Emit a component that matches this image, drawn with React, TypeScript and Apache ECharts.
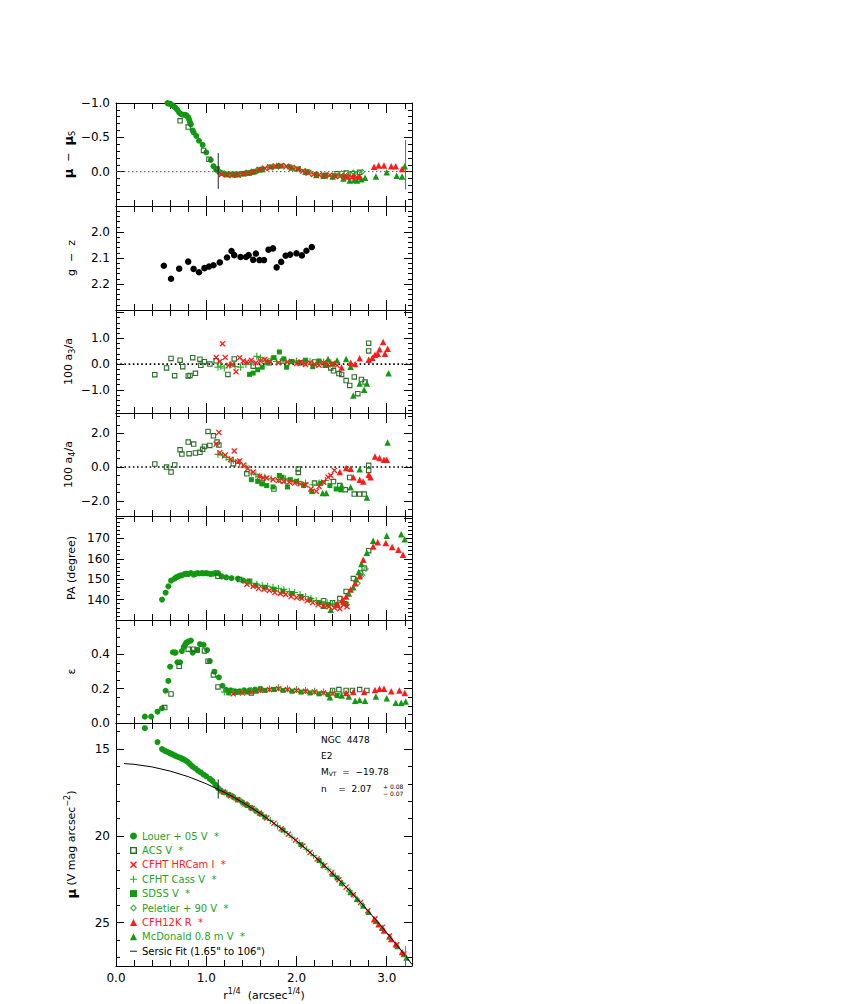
import React, { useEffect, useRef } from "react";
import * as echarts from "echarts";

// ---------- axis ranges & ticks ----------
const X_MIN = 0;
const X_MAX = 3.28;
const X_LABELS = [0, 1, 2, 3];
const X_MAJOR = [1, 2, 3];
const X_MINOR = [0.2, 0.4, 0.6, 0.8, 1.2, 1.4, 1.6, 1.8, 2.2, 2.4, 2.6, 2.8, 3.2];

const Y1_LABELS = [-1.0, -0.5, 0.0];
const Y1_MAJOR = [-0.5, 0.0];
const Y1_MINOR = [-0.9, -0.8, -0.7, -0.6, -0.4, -0.3, -0.2, -0.1, 0.1, 0.2, 0.3, 0.4];
const Y2_LABELS = [2.0, 2.1, 2.2];
const Y2_MAJOR = [2.0, 2.1, 2.2];
const Y2_MINOR = [1.92, 1.94, 1.96, 1.98, 2.02, 2.04, 2.06, 2.08, 2.12, 2.14, 2.16, 2.18, 2.22, 2.24, 2.26, 2.28];
const Y3_LABELS = [-1.0, 0.0, 1.0];
const Y3_MAJOR = [-1, 0, 1, 2];
const Y3_MINOR = [-1.8, -1.6, -1.4, -1.2, -0.8, -0.6, -0.4, -0.2, 0.2, 0.4, 0.6, 0.8, 1.2, 1.4, 1.6, 1.8];
const Y4_LABELS = [-2.0, 0.0, 2.0];
const Y4_MAJOR = [-2, 0, 2];
const Y4_MINOR = [-2.5, -1.5, -1.0, -0.5, 0.5, 1.0, 1.5, 2.5, 3.0];
const Y5_LABELS = [140, 150, 160, 170];
const Y5_MAJOR = [140, 150, 160, 170, 180];
const Y5_MINOR = [132, 134, 136, 138, 142, 144, 146, 148, 152, 154, 156, 158, 162, 164, 166, 168, 172, 174, 176, 178];
const Y6_LABELS = [0.0, 0.2, 0.4];
const Y6_MAJOR = [0.2, 0.4];
const Y6_MINOR = [0.05, 0.1, 0.15, 0.25, 0.3, 0.35, 0.45, 0.5, 0.55];
const Y7_LABELS = [15, 20, 25];
const Y7_MAJOR = [15, 20, 25];
const Y7_MINOR = [14, 16, 17, 18, 19, 21, 22, 23, 24, 26, 27];

// ---------- dataset names ----------
const N_LOUER = "Louer + 05 V  *";
const N_ACS = "ACS V  *";
const N_HRCAM = "CFHT HRCam I  *";
const N_CASS = "CFHT Cass V  *";
const N_SDSS = "SDSS V  *";
const N_PEL = "Peletier + 90 V  *";
const N_CFH12K = "CFH12K R  *";
const N_MCD = "McDonald 0.8 m V  *";
const N_SERSIC = 'Sersic Fit (1.65" to 106")';

// ---------- panel 1: mu - mu_S ----------
const LOUER_RES = [[0.57,-1.00],[0.58,-0.99],[0.60,-0.99],[0.62,-0.97],[0.64,-0.95],[0.66,-0.93],[0.68,-0.90],[0.70,-0.86],[0.72,-0.84],[0.74,-0.83],[0.76,-0.83],[0.78,-0.82],[0.80,-0.79],[0.81,-0.76],[0.82,-0.72],[0.83,-0.69],[0.85,-0.60],[0.86,-0.57],[0.89,-0.52],[0.92,-0.45],[0.96,-0.39],[1.00,-0.28],[1.05,-0.17],[1.08,-0.08],[1.11,-0.03],[1.14,0.00],[1.17,0.02],[1.20,0.03],[1.23,0.04],[1.26,0.04],[1.29,0.04],[1.32,0.04],[1.35,0.04],[1.38,0.03],[1.41,0.03],[1.44,0.02],[1.47,0.02],[1.50,0.01],[1.53,0.00],[1.56,-0.01],[1.60,-0.03]];
const ACS_RES = [[0.71,-0.74],[0.80,-0.65],[0.97,-0.31],[1.03,-0.18],[1.12,-0.04],[2.45,0.03],[2.55,0.02],[2.62,0.03],[2.70,0.01]];
const CASS_RES = [[1.15,0.01],[1.20,0.03],[1.26,0.05],[1.32,0.04],[1.38,0.04],[1.44,0.02],[1.50,0.01],[1.56,-0.02],[1.62,-0.04],[1.68,-0.06],[1.74,-0.07],[1.80,-0.08],[1.86,-0.08],[1.92,-0.06],[1.98,-0.05],[2.04,-0.03],[2.10,0.00],[2.16,0.02],[2.22,0.04],[2.28,0.05],[2.34,0.06],[2.40,0.07],[2.46,0.06],[2.52,0.08],[2.58,0.07]];
const HRCAM_RES = [[1.17,0.04],[1.23,0.05],[1.29,0.05],[1.35,0.05],[1.41,0.03],[1.47,0.02],[1.53,0.00],[1.59,-0.03],[1.65,-0.05],[1.71,-0.06],[1.77,-0.08],[1.83,-0.09],[1.89,-0.08],[1.95,-0.06],[2.01,-0.04],[2.07,-0.01],[2.13,0.02],[2.19,0.04],[2.25,0.05],[2.31,0.06],[2.37,0.05],[2.43,0.07],[2.49,0.06],[2.55,0.07],[2.61,0.09],[2.67,0.08]];
const SDSS_RES = [[1.22,0.04],[1.32,0.05],[1.42,0.03],[1.52,0.01],[1.62,-0.03],[1.72,-0.07],[1.82,-0.08],[1.92,-0.07],[2.02,-0.04],[2.12,0.00],[2.22,0.04],[2.32,0.05],[2.42,0.06],[2.52,0.07]];
const MCD_RES = [[1.62,-0.04],[1.78,-0.09],[1.95,-0.06],[2.10,0.00],[2.22,0.05],[2.30,0.06],[2.40,0.07],[2.52,0.10],[2.59,0.13],[2.64,0.12],[2.67,0.13],[2.72,0.11],[2.76,0.09],[2.88,0.07],[3.00,0.01],[3.11,0.06],[3.17,0.07],[3.20,-0.08]];
const CFH12K_RES = [[2.56,0.07],[2.63,0.06],[2.70,0.07],[2.86,-0.07],[2.91,-0.09],[2.97,-0.09],[3.05,-0.08],[3.10,-0.08],[3.17,-0.04]];
const PEL_RES = [[2.50,0.02],[2.58,0.03],[2.63,0.01],[2.68,0.02],[2.73,0.00]];

// ---------- panel 2: g - z ----------
const GZ = [[0.53,2.130],[0.61,2.180],[0.70,2.141],[0.80,2.114],[0.86,2.142],[0.92,2.155],[0.98,2.139],[1.03,2.133],[1.08,2.128],[1.15,2.117],[1.23,2.098],[1.28,2.073],[1.31,2.089],[1.38,2.096],[1.44,2.096],[1.47,2.089],[1.52,2.107],[1.55,2.083],[1.59,2.108],[1.64,2.108],[1.69,2.068],[1.74,2.063],[1.78,2.136],[1.83,2.115],[1.88,2.091],[1.93,2.087],[2.00,2.082],[2.06,2.090],[2.11,2.072],[2.17,2.058]];

// ---------- panel 3: 100 a3/a ----------
const ACS_A3 = [[0.43,-0.41],[0.56,-0.15],[0.61,0.22],[0.65,-0.45],[0.71,0.15],[0.74,-0.10],[0.80,-0.46],[0.82,-0.44],[0.85,0.25],[0.88,-0.36],[0.93,0.19],[0.94,-0.05],[0.98,0.09],[1.04,0.00],[1.11,0.13],[1.24,-0.40],[1.31,0.20],[1.52,-0.08],[1.70,0.05],[1.85,0.12],[2.05,0.05],[2.20,0.08],[2.32,-0.05],[2.38,-0.15],[2.41,-0.26],[2.47,-0.37],[2.50,-0.40],[2.55,-0.64],[2.59,-0.83],[2.64,-0.50],[2.68,-1.15],[2.72,-0.60],[2.76,-0.70],[2.80,0.81],[2.80,0.51]];
const HRCAM_A3 = [[1.11,0.26],[1.15,0.10],[1.18,0.79],[1.21,0.26],[1.25,-0.05],[1.29,0.00],[1.33,-0.30],[1.37,0.25],[1.41,0.12],[1.45,0.08],[1.50,0.15],[1.55,0.05],[1.60,0.12],[1.65,0.18],[1.70,0.10],[1.80,0.05],[1.90,0.08],[2.00,0.02],[2.05,0.08],[2.10,-0.02],[2.15,0.05],[2.20,0.00],[2.25,-0.05],[2.30,0.05],[2.35,-0.03],[2.40,0.02],[2.45,-0.05]];
const CASS_A3 = [[1.13,-0.12],[1.16,-0.08],[1.20,-0.15],[1.26,-0.05],[1.32,-0.10],[1.38,-0.12],[1.44,-0.02],[1.50,0.05],[1.56,0.30],[1.60,0.25],[1.65,0.15],[1.72,0.20],[1.78,0.10],[1.85,0.18],[1.92,0.08],[2.00,0.12],[2.08,0.05],[2.15,0.10],[2.22,0.00],[2.30,0.08],[2.38,0.05]];
const SDSS_A3 = [[1.48,-0.40],[1.52,-0.35],[1.57,-0.22],[1.62,-0.12],[1.68,0.05],[1.75,0.25],[1.81,0.47],[1.86,0.20],[1.89,-0.12],[1.95,0.10],[2.02,0.05],[2.10,0.15],[2.18,-0.10],[2.25,0.12],[2.32,-0.05],[2.40,0.00]];
const MCD_A3 = [[2.35,0.20],[2.45,0.15],[2.55,0.20],[2.60,-0.10],[2.63,-1.22],[2.70,-0.75],[2.75,-1.00],[2.78,-0.75],[3.02,-0.36]];
const CFH12K_A3 = [[2.50,-0.13],[2.60,0.05],[2.65,0.00],[2.70,0.23],[2.80,0.17],[2.84,0.25],[2.87,0.36],[2.90,0.40],[2.92,0.58],[2.96,0.86],[2.98,0.40],[3.01,0.60]];

// ---------- panel 4: 100 a4/a ----------
const ACS_A4 = [[0.43,0.18],[0.56,0.00],[0.61,-0.30],[0.65,0.12],[0.71,1.02],[0.73,0.77],[0.80,1.48],[0.81,0.79],[0.86,1.36],[0.88,0.83],[0.93,0.87],[0.96,1.05],[0.98,1.22],[1.02,2.11],[1.04,1.28],[1.08,1.85],[1.12,1.48],[1.14,1.30],[1.30,0.20],[1.45,-0.40],[1.62,-0.95],[1.75,-1.30],[1.85,-0.80],[2.02,-0.12],[2.02,-0.32],[2.20,-0.95],[2.41,-0.86],[2.48,-1.10],[2.54,-1.34],[2.59,-0.62],[2.64,-1.60],[2.70,-1.60],[2.75,-1.60],[2.80,0.10],[2.80,-0.20]];
const HRCAM_A4 = [[1.11,1.36],[1.14,2.05],[1.15,0.85],[1.21,0.71],[1.27,0.45],[1.31,0.95],[1.35,0.30],[1.37,0.36],[1.41,0.10],[1.46,-0.10],[1.52,-0.30],[1.59,-0.55],[1.63,-0.65],[1.67,-0.65],[1.74,-0.75],[1.80,-0.80],[1.86,-0.85],[1.92,-0.90],[1.98,-0.95],[2.04,-1.00],[2.10,-1.05],[2.16,-1.30],[2.22,-1.44],[2.25,-1.15],[2.30,-0.90],[2.35,-0.60],[2.38,-0.50],[2.42,-0.20]];
const CASS_A4 = [[1.13,0.75],[1.18,0.70],[1.22,0.57],[1.26,0.45],[1.30,0.40],[1.37,0.22],[1.44,0.06],[1.50,-0.35],[1.55,-0.45],[1.59,-0.55],[1.65,-0.60],[1.72,-0.70],[1.80,-0.75],[1.88,-0.70],[1.95,-0.80],[2.02,-0.85],[2.10,-0.95],[2.18,-1.05],[2.25,-0.95],[2.32,-0.80]];
const SDSS_A4 = [[1.50,-0.75],[1.57,-0.85],[1.62,-1.00],[1.67,-1.10],[1.74,-1.18],[1.81,-0.50],[1.84,-0.60],[1.90,-1.18],[1.93,-0.75],[2.00,-0.85],[2.08,-1.10],[2.17,-1.46],[2.27,-0.97],[2.37,-1.10],[2.44,-1.30],[2.49,-1.35]];
const MCD_A4 = [[2.29,-1.54],[2.33,-1.54],[2.50,-1.10],[2.60,-1.20],[2.70,-0.13],[2.78,-1.80],[3.01,1.46]];
const CFH12K_A4 = [[2.48,-0.30],[2.55,-0.05],[2.60,-0.10],[2.63,-0.60],[2.70,-0.75],[2.74,-0.85],[2.80,-0.45],[2.82,-0.60],[2.87,0.63],[2.92,0.53],[2.97,0.43],[3.00,0.43]];

// ---------- panel 5: PA ----------
const LOUER_PA = [[0.51,140.0],[0.55,143.4],[0.58,146.5],[0.61,149.3],[0.65,150.3],[0.67,151.0],[0.69,151.4],[0.71,151.8],[0.73,151.9],[0.76,152.5],[0.78,152.7],[0.80,152.5],[0.83,153.0],[0.86,152.2],[0.88,152.6],[0.90,153.0],[0.92,152.8],[0.95,153.0],[0.97,152.9],[1.00,153.0],[1.02,152.8],[1.05,152.5],[1.08,152.7],[1.10,153.0],[1.13,153.0],[1.17,151.4],[1.22,150.9],[1.28,150.5],[1.35,150.3],[1.41,149.3],[1.47,148.8]];
const ACS_PA = [[1.13,151.4],[1.37,149.8],[1.48,149.0],[2.30,139.5],[2.40,138.5],[2.48,140.5],[2.55,144.0],[2.63,150.3],[2.71,153.0],[2.75,155.5],[2.80,164.0]];
const HRCAM_PA = [[1.45,147.5],[1.52,146.5],[1.58,145.5],[1.64,145.0],[1.70,144.5],[1.76,143.5],[1.82,143.0],[1.88,142.5],[1.94,141.5],[2.00,141.0],[2.06,140.5],[2.12,139.5],[2.18,138.5],[2.24,137.5],[2.30,137.0],[2.36,136.5],[2.42,136.0],[2.48,135.5],[2.52,137.5],[2.56,136.5]];
const CASS_PA = [[1.45,148.5],[1.50,148.0],[1.56,147.5],[1.62,147.0],[1.68,146.5],[1.74,146.0],[1.80,145.5],[1.86,145.0],[1.92,144.0],[1.98,143.5],[2.04,142.5],[2.10,141.5],[2.16,140.5],[2.22,139.5],[2.28,139.0],[2.34,138.5],[2.40,138.0],[2.46,138.5],[2.52,139.0]];
const SDSS_PA = [[1.55,147.0],[1.65,146.0],[1.75,145.0],[1.85,144.0],[1.95,143.0],[2.05,141.5],[2.15,140.0],[2.25,138.5],[2.35,137.5],[2.45,137.0],[2.55,138.0]];
const MCD_PA = [[2.30,137.0],[2.38,135.0],[2.45,137.5],[2.52,139.0],[2.58,143.0],[2.63,146.0],[2.66,150.0],[2.69,153.5],[2.72,157.5],[2.78,163.0],[2.85,168.9],[3.00,171.3],[3.16,172.0],[3.20,169.6]];
const CFH12K_PA = [[2.45,138.0],[2.51,140.0],[2.55,141.5],[2.60,145.0],[2.65,148.0],[2.70,151.5],[2.74,159.6],[2.85,166.1],[2.90,168.1],[2.99,167.8],[3.06,165.8],[3.13,164.5],[3.18,162.0]];
const PEL_PA = [[2.68,148.0],[2.73,152.0],[2.77,155.0]];

// ---------- panel 6: ellipticity ----------
const LOUER_EPS = [[0.32,0.037],[0.39,0.037],[0.46,0.066],[0.51,0.086],[0.55,0.188],[0.58,0.245],[0.60,0.328],[0.63,0.412],[0.65,0.41],[0.66,0.41],[0.68,0.354],[0.71,0.354],[0.73,0.419],[0.75,0.444],[0.77,0.46],[0.78,0.468],[0.80,0.474],[0.83,0.48],[0.85,0.41],[0.90,0.425],[0.93,0.46],[0.97,0.455],[1.01,0.425],[1.04,0.361],[1.09,0.299],[1.14,0.266],[1.18,0.217],[1.22,0.193],[1.27,0.19],[1.32,0.185],[1.37,0.185],[1.42,0.19],[1.48,0.19],[1.54,0.195],[1.60,0.20]];
const ACS_EPS = [[0.54,0.09],[0.61,0.169],[0.70,0.33],[0.80,0.43],[0.86,0.43],[0.90,0.425],[0.98,0.42],[1.02,0.36],[1.08,0.28],[1.13,0.21],[1.33,0.18],[1.50,0.175],[2.40,0.19],[2.47,0.195],[2.55,0.19],[2.62,0.19],[2.70,0.195],[2.78,0.19]];
const HRCAM_EPS = [[1.30,0.17],[1.40,0.175],[1.50,0.18],[1.60,0.19],[1.70,0.195],[1.80,0.20],[1.90,0.195],[2.00,0.19],[2.10,0.185],[2.20,0.18],[2.30,0.175],[2.40,0.17]];
const CASS_EPS = [[1.20,0.18],[1.30,0.185],[1.40,0.185],[1.50,0.19],[1.60,0.195],[1.70,0.20],[1.80,0.205],[1.90,0.20],[2.00,0.195],[2.10,0.19],[2.20,0.185],[2.30,0.18],[2.40,0.18],[2.50,0.175]];
const SDSS_EPS = [[1.25,0.175],[1.35,0.18],[1.45,0.18],[1.55,0.185],[1.65,0.19],[1.75,0.195],[1.85,0.19],[1.95,0.185],[2.05,0.18],[2.15,0.175],[2.25,0.17],[2.35,0.165],[2.45,0.16]];
const MCD_EPS = [[2.37,0.15],[2.50,0.16],[2.58,0.155],[2.65,0.13],[2.70,0.134],[2.76,0.13],[2.88,0.155],[3.00,0.144],[3.10,0.118],[3.16,0.118],[3.21,0.125]];
const CFH12K_EPS = [[2.55,0.175],[2.63,0.18],[2.75,0.18],[2.87,0.192],[2.92,0.20],[2.97,0.20],[3.05,0.185],[3.14,0.19],[3.20,0.175]];

// ---------- panel 7: surface brightness ----------
const LOUER_MU = [[0.32,13.8],[0.46,14.6],[0.51,15.0],[0.53,15.07],[0.55,15.12],[0.57,15.17],[0.59,15.22],[0.61,15.27],[0.63,15.32],[0.65,15.37],[0.67,15.42],[0.69,15.46],[0.71,15.5],[0.73,15.55],[0.75,15.6],[0.77,15.66],[0.79,15.73],[0.81,15.82],[0.83,15.92],[0.85,16.02],[0.88,16.12],[0.91,16.25],[0.94,16.35],[0.97,16.47],[1.00,16.57],[1.04,16.72],[1.07,16.85],[1.10,17.05],[1.13,17.25],[1.16,17.38],[1.20,17.5],[1.25,17.63],[1.30,17.77],[1.35,17.92],[1.40,18.07],[1.45,18.23],[1.50,18.39],[1.55,18.56],[1.60,18.73]];
const CASS_MU = [[1.15,17.36],[1.23,17.57],[1.31,17.80],[1.39,18.04],[1.47,18.29],[1.55,18.56],[1.63,18.83],[1.71,19.12],[1.79,19.43],[1.87,19.75],[1.95,20.08],[2.03,20.42],[2.11,20.77],[2.19,21.14],[2.27,21.52],[2.35,21.92],[2.43,22.32],[2.51,22.74],[2.59,23.17]];
const HRCAM_MU = [[1.19,17.47],[1.27,17.69],[1.35,17.92],[1.43,18.16],[1.51,18.42],[1.59,18.69],[1.67,18.98],[1.75,19.28],[1.83,19.59],[1.91,19.91],[1.99,20.25],[2.07,20.59],[2.15,20.96],[2.23,21.33],[2.31,21.72],[2.39,22.12],[2.47,22.53],[2.55,22.96],[2.63,23.39],[2.71,23.84],[2.79,24.31],[2.87,24.78],[2.95,25.27],[3.03,25.77],[3.11,26.28],[3.19,26.81]];
const SDSS_MU = [[1.25,17.63],[1.45,18.23],[1.65,18.91],[1.85,19.67],[2.05,20.51],[2.25,21.43],[2.45,22.43]];
const MCD_MU = [[2.30,21.67],[2.40,22.17],[2.50,22.69],[2.60,23.23],[2.67,23.62],[2.74,24.02],[2.80,24.37],[2.88,24.9],[2.95,25.3],[3.03,25.8],[3.12,26.35],[3.19,26.81],[3.22,27.01]];
const CFH12K_MU = [[2.86,24.8],[2.91,25.1],[2.97,25.45],[3.05,25.95],[3.10,26.25],[3.17,26.7]];
const PEL_MU = [[2.50,22.72],[2.58,23.15],[2.63,23.42],[2.68,23.70],[2.73,24.0]];
const SERSIC = [[0.09,15.84],[0.2,15.88],[0.4,16.03],[0.6,16.27],[0.8,16.59],[1.0,17.0],[1.2,17.49],[1.3,17.77],[1.4,18.07],[1.5,18.39],[1.6,18.73],[1.7,19.09],[1.8,19.47],[1.9,19.87],[2.0,20.29],[2.1,20.73],[2.2,21.19],[2.3,21.67],[2.4,22.17],[2.5,22.69],[2.6,23.23],[2.7,23.79],[2.8,24.37],[2.9,24.96],[3.0,25.58],[3.1,26.22],[3.2,26.87],[3.28,27.41]];

// fit range markers (1.65" and 106" in r^1/4) with their vertical extents
const FIT_R = [1.133, 3.209];
const FIT_MARK_RES = [[-0.27, 0.25], [-0.46, 0.26]];
const FIT_MARK_MU = [[16.75, 17.85], [26.35, 27.5]];

// ---------- styles ----------
const FONT = "'DejaVu Sans', 'Liberation Sans', sans-serif";
const GREEN = "#119a11";
const GREEN2 = "#2aae2a";
const DKGREEN = "#2a6e2a";
const RED = "#ff1a1a";
const TXT_GREEN = "#1fa31f";
const TXT_RED = "#ff2020";

const SYM_X = "path://M0,1.5L1.5,0L5,3.5L8.5,0L10,1.5L6.5,5L10,8.5L8.5,10L5,6.5L1.5,10L0,8.5L3.5,5Z";
const SYM_PLUS = "path://M4.2,0H5.8V4.2H10V5.8H5.8V10H4.2V5.8H0V4.2H4.2Z";
const SYM_OSQ = "path://M0,0H10V10H0Z M2,2V8H8V2Z";
const SYM_ODIA = "path://M5,0L10,5L5,10L0,5Z M5,2.2L2.2,5L5,7.8L7.8,5Z";

const STY: Record<string, { symbol: string; size: number; color: string; text: string }> = {
  [N_LOUER]: { symbol: "circle", size: 6, color: GREEN, text: TXT_GREEN },
  [N_ACS]: { symbol: SYM_OSQ, size: 5.5, color: DKGREEN, text: TXT_GREEN },
  [N_HRCAM]: { symbol: SYM_X, size: 6, color: RED, text: TXT_RED },
  [N_CASS]: { symbol: SYM_PLUS, size: 7, color: GREEN2, text: TXT_GREEN },
  [N_SDSS]: { symbol: "rect", size: 5, color: GREEN, text: TXT_GREEN },
  [N_PEL]: { symbol: SYM_ODIA, size: 6, color: GREEN2, text: TXT_GREEN },
  [N_CFH12K]: { symbol: "triangle", size: 6.5, color: RED, text: TXT_RED },
  [N_MCD]: { symbol: "triangle", size: 6.5, color: GREEN, text: TXT_GREEN },
};

const fmt1 = (v: number) => (v < -1e-9 ? "\u2212" : "") + Math.abs(v).toFixed(1);
const fmt0 = (v: number) => String(Math.round(v));

const RICH = {
  b: { fontWeight: "bold", fontSize: 13, fontFamily: FONT, color: "#000", lineHeight: 16 },
  sub: { fontSize: 8, fontFamily: FONT, color: "#000", lineHeight: 8, verticalAlign: "bottom" },
  sup: { fontSize: 8, fontFamily: FONT, color: "#000", lineHeight: 8, verticalAlign: "top" },
};

const PANELS = [
  { name: "{b|μ}  \u2212  {b|μ}{sub|S}", min: -1.0, max: 0.5, inverse: true, labels: Y1_LABELS, majors: Y1_MAJOR, minors: Y1_MINOR, fmt: fmt1 },
  { name: "g  \u2212  z", min: 1.9, max: 2.3, inverse: true, labels: Y2_LABELS, majors: Y2_MAJOR, minors: Y2_MINOR, fmt: fmt1 },
  { name: "100 a{sub|3}/a", min: -1.9, max: 2.1, inverse: false, labels: Y3_LABELS, majors: Y3_MAJOR, minors: Y3_MINOR, fmt: fmt1 },
  { name: "100 a{sub|4}/a", min: -2.9, max: 3.2, inverse: false, labels: Y4_LABELS, majors: Y4_MAJOR, minors: Y4_MINOR, fmt: fmt1 },
  { name: "PA (degree)", min: 130, max: 181, inverse: false, labels: Y5_LABELS, majors: Y5_MAJOR, minors: Y5_MINOR, fmt: fmt0 },
  { name: "ε", min: 0, max: 0.6, inverse: false, labels: Y6_LABELS, majors: Y6_MAJOR, minors: Y6_MINOR, fmt: fmt1 },
  { name: "{b|μ} (V mag arcsec{sup|\u22122})", min: 13.5, max: 27.5, inverse: true, labels: Y7_LABELS, majors: Y7_MAJOR, minors: Y7_MINOR, fmt: fmt0 },
];
const TOPS = [103, 206, 310, 413, 516, 620, 723];
const HEIGHTS = [103, 104, 103, 103, 104, 103, 244];

const PANEL_DATA: [string, number[][]][][] = [
  [[N_LOUER, LOUER_RES], [N_ACS, ACS_RES], [N_CASS, CASS_RES], [N_SDSS, SDSS_RES], [N_PEL, PEL_RES], [N_MCD, MCD_RES], [N_HRCAM, HRCAM_RES], [N_CFH12K, CFH12K_RES]],
  [],
  [[N_ACS, ACS_A3], [N_CASS, CASS_A3], [N_SDSS, SDSS_A3], [N_MCD, MCD_A3], [N_HRCAM, HRCAM_A3], [N_CFH12K, CFH12K_A3]],
  [[N_ACS, ACS_A4], [N_CASS, CASS_A4], [N_SDSS, SDSS_A4], [N_MCD, MCD_A4], [N_HRCAM, HRCAM_A4], [N_CFH12K, CFH12K_A4]],
  [[N_LOUER, LOUER_PA], [N_ACS, ACS_PA], [N_CASS, CASS_PA], [N_SDSS, SDSS_PA], [N_PEL, PEL_PA], [N_MCD, MCD_PA], [N_HRCAM, HRCAM_PA], [N_CFH12K, CFH12K_PA]],
  [[N_LOUER, LOUER_EPS], [N_ACS, ACS_EPS], [N_CASS, CASS_EPS], [N_SDSS, SDSS_EPS], [N_MCD, MCD_EPS], [N_HRCAM, HRCAM_EPS], [N_CFH12K, CFH12K_EPS]],
  [[N_LOUER, LOUER_MU], [N_CASS, CASS_MU], [N_SDSS, SDSS_MU], [N_PEL, PEL_MU], [N_MCD, MCD_MU], [N_HRCAM, HRCAM_MU], [N_CFH12K, CFH12K_MU]],
];

function buildOption() {
  const grid: any[] = [];
  const xAxis: any[] = [];
  const yAxis: any[] = [];
  const series: any[] = [];
  const axLine = { show: true, onZero: false, lineStyle: { color: "#000", width: 1 } };
  const noLine = { show: false, onZero: false };
  const tick = (vals: number[], len: number) => ({
    show: true, inside: true, length: len, customValues: vals, lineStyle: { color: "#000", width: 1 },
  });
  const labelStyle = { color: "#000", fontSize: 12, fontFamily: FONT };

  PANELS.forEach((p, i) => {
    const last = i === PANELS.length - 1;
    grid.push({ left: 116, width: 296, top: TOPS[i], height: HEIGHTS[i] });
    const xb = { type: "value", gridIndex: i, min: X_MIN, max: X_MAX, splitLine: { show: false }, axisLabel: { show: false } };
    xAxis.push({
      ...xb, position: "bottom", axisLine: axLine, axisTick: tick(X_MAJOR, 10),
      axisLabel: last ? { show: true, customValues: X_LABELS, formatter: fmt1, margin: 6, ...labelStyle } : { show: false },
      name: last ? "r{sup|1/4}  (arcsec{sup|1/4})" : "",
      nameLocation: "middle", nameGap: 21,
      nameTextStyle: { fontFamily: FONT, fontSize: 11, color: "#000", lineHeight: 16, rich: RICH },
    });
    xAxis.push({ ...xb, position: "bottom", axisLine: noLine, axisTick: tick(X_MINOR, 6) });
    xAxis.push({ ...xb, position: "top", axisLine: axLine, axisTick: tick(X_MAJOR, 10) });
    xAxis.push({ ...xb, position: "top", axisLine: noLine, axisTick: tick(X_MINOR, 6) });

    const yb = { type: "value", gridIndex: i, min: p.min, max: p.max, inverse: p.inverse, splitLine: { show: false }, axisLabel: { show: false } };
    yAxis.push({
      ...yb, position: "left", axisLine: axLine, axisTick: tick(p.majors, 8),
      axisLabel: { show: true, customValues: p.labels, formatter: p.fmt, margin: 6, ...labelStyle },
      name: p.name, nameLocation: "middle", nameRotate: 90, nameGap: 37,
      nameTextStyle: { fontFamily: FONT, fontSize: 11, color: "#000", lineHeight: 16, rich: RICH },
    });
    yAxis.push({ ...yb, position: "left", axisLine: noLine, axisTick: tick(p.minors, 4) });
    yAxis.push({ ...yb, position: "right", axisLine: axLine, axisTick: tick(p.majors, 8) });
    yAxis.push({ ...yb, position: "right", axisLine: noLine, axisTick: tick(p.minors, 4) });

    const ax = { xAxisIndex: i * 4, yAxisIndex: i * 4 };

    // zero reference lines
    if (i === 0 || i === 2 || i === 3) {
      series.push({
        type: "line", name: "_zero" + i, ...ax, data: [[X_MIN, 0], [X_MAX, 0]], showSymbol: false, silent: true, z: 1,
        lineStyle: i === 0 ? { color: "#555", width: 1, type: [1.5, 2.5] } : { color: "#000", width: 1.6, type: [1.6, 2.6] },
      });
    }
    if (i === 0) {
      FIT_R.forEach((r, k) => {
        series.push({
          type: "line", name: "_fitres" + k, ...ax, data: [[r, FIT_MARK_RES[k][0]], [r, FIT_MARK_RES[k][1]]],
          showSymbol: false, silent: true, z: 4, lineStyle: { color: k === 0 ? "#222" : "#666", width: 1 },
        });
      });
    }
    if (i === 1) {
      series.push({ type: "scatter", name: "g-z", ...ax, data: GZ, symbol: "circle", symbolSize: 6.5, itemStyle: { color: "#000", opacity: 1 }, silent: true, z: 3 });
    }
    if (last) {
      series.push({
        type: "line", name: N_SERSIC, ...ax, data: SERSIC, showSymbol: false, silent: true, z: 5,
        lineStyle: { color: "#000", width: 1 }, itemStyle: { color: "#000" },
      });
      FIT_R.forEach((r, k) => {
        series.push({
          type: "line", name: "_fitmu" + k, ...ax, data: [[r, FIT_MARK_MU[k][0]], [r, FIT_MARK_MU[k][1]]],
          showSymbol: false, silent: true, z: 5, lineStyle: { color: k === 0 ? "#222" : "#777", width: 1 },
        });
      });
    }
    PANEL_DATA[i].forEach(([name, data]) => {
      const s = STY[name];
      series.push({
        type: "scatter", name, ...ax, data, symbol: s.symbol, symbolSize: s.size, silent: true, z: 3,
        itemStyle: { color: s.color, opacity: 1 },
      });
    });
  });

  const legendNames = [N_LOUER, N_ACS, N_HRCAM, N_CASS, N_SDSS, N_PEL, N_CFH12K, N_MCD];
  const legendData: any[] = legendNames.map((n) => ({ name: n, textStyle: { color: STY[n].text } }));
  legendData.push({ name: N_SERSIC, icon: "path://M0,0H10V1.3H0Z", textStyle: { color: "#000" } });

  const gText = (x: number, y: number, text: string, size = 9) => ({
    type: "text", x, y, silent: true,
    style: { text, fontSize: size, fontFamily: FONT, fill: "#000", verticalAlign: "middle", align: "left",
      rich: { sub: { fontSize: 6, fontFamily: FONT, lineHeight: 6, verticalAlign: "bottom", fill: "#000" } } },
  });

  return {
    animation: false,
    backgroundColor: "#fff",
    grid,
    xAxis,
    yAxis,
    series,
    legend: {
      orient: "vertical", left: 125, top: 826, itemWidth: 7, itemHeight: 7, itemGap: 4.4,
      selectedMode: false, textStyle: { fontSize: 10, fontFamily: FONT }, data: legendData,
    },
    graphic: [
      gText(321, 740, "NGC  4478"),
      gText(321, 756, "E2"),
      gText(321, 772, "M{sub|VT}  =  \u221219.78"),
      gText(321, 789, "n    =  2.07"),
      gText(383, 786, "+ 0.08", 6),
      gText(383, 793, "\u2212 0.07", 6),
    ],
  };
}

export default function App() {
  const ref = useRef<HTMLDivElement>(null);
  useEffect(() => {
    if (!ref.current) return;
    const chart = echarts.init(ref.current, null, { renderer: "svg" });
    chart.setOption(buildOption() as any);
    return () => chart.dispose();
  }, []);
  return (
    <div
      ref={ref}
      style={{ position: "absolute", left: 0, top: 0, width: 850, height: 1004, background: "#fff" }}
    />
  );
}
